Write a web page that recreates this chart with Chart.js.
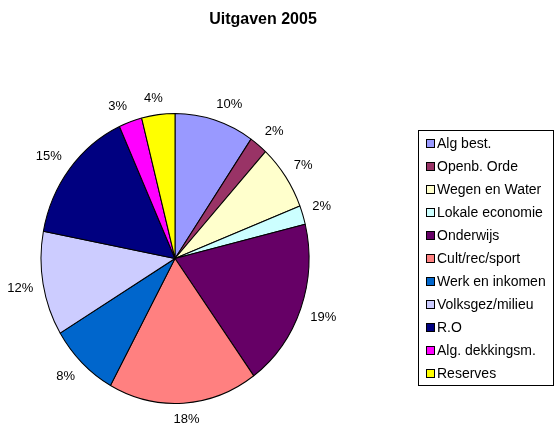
<!DOCTYPE html>
<html>
<head>
<meta charset="utf-8">
<script src="https://cdn.jsdelivr.net/npm/chart.js@4.4.0/dist/chart.umd.min.js"></script>
<style>
    html, body { margin: 0; padding: 0; background: #fff; }
    canvas { display: block; }
</style>
</head>
<body>
<canvas id="uitgavenChart" width="556" height="424"></canvas>
<script>
// Uitgaven 2005 - share per programma (percent)
const categories = ['Alg best.', 'Openb. Orde', 'Wegen en Water', 'Lokale economie', 'Onderwijs',
    'Cult/rec/sport', 'Werk en inkomen', 'Volksgez/milieu', 'R.O', 'Alg. dekkingsm.', 'Reserves'];
const values = [9.6, 2.2, 7.3, 2.1, 18.8, 18.0, 8.4, 11.6, 15.2, 2.8, 4.0];
const colors = ['#9999FF', '#993366', '#FFFFCC', '#CCFFFF', '#660066', '#FF8080',
    '#0066CC', '#CCCCFF', '#000080', '#FF00FF', '#FFFF00'];
const chartTitle = 'Uitgaven 2005';

const FONT = "'Liberation Sans', Arial, sans-serif";
const STRETCH = 145 / 134;   // the original pie is a bit taller than wide

const whiteBg = {
    id: 'whiteBg',
    beforeDraw(chart) {
        const ctx = chart.ctx;
        ctx.save();
        ctx.fillStyle = '#fff';
        ctx.fillRect(0, 0, chart.width, chart.height);
        ctx.restore();
    }
};

const ellipsePie = {
    id: 'ellipsePie',
    beforeDatasetsDraw(chart) {
        const arc = chart.getDatasetMeta(0).data[0];
        const ctx = chart.ctx;
        ctx.save();
        ctx.translate(arc.x, arc.y);
        ctx.scale(1, STRETCH);
        ctx.translate(-arc.x, -arc.y);
    },
    afterDatasetsDraw(chart) {
        const ctx = chart.ctx;
        ctx.restore();

        // percentage labels outside the slices
        const meta = chart.getDatasetMeta(0);
        const total = values.reduce((a, b) => a + b, 0);
        ctx.save();
        ctx.font = '13px ' + FONT;
        ctx.fillStyle = '#000';
        ctx.textAlign = 'center';
        ctx.textBaseline = 'middle';
        meta.data.forEach((arc, i) => {
            const mid = (arc.startAngle + arc.endAngle) / 2;
            const dx = Math.cos(mid), dy = Math.sin(mid);
            const rx = arc.outerRadius, ry = arc.outerRadius * STRETCH;
            const txt = Math.round(values[i] / total * 100) + '%';
            const w = ctx.measureText(txt).width, h = 12;
            const clamp = v => Math.max(-1, Math.min(1, v));
            const gap = 10;
            const x = arc.x + rx * dx + dx * gap + w / 2 * clamp(3 * dx);
            const y = arc.y + ry * dy + dy * gap + h / 2 * clamp(3 * dy);
            ctx.fillText(txt, x, y);
        });
        ctx.restore();
    }
};

const titleAndLegend = {
    id: 'titleAndLegend',
    afterDraw(chart) {
        const ctx = chart.ctx;
        ctx.save();
        ctx.fillStyle = '#000';
        ctx.textAlign = 'center';
        ctx.textBaseline = 'middle';
        ctx.font = 'bold 16px ' + FONT;
        ctx.fillText(chartTitle, 263, 20);

        ctx.strokeStyle = '#000';
        ctx.lineWidth = 1;
        ctx.strokeRect(418.5, 130.5, 135, 255);
        ctx.font = '14px ' + FONT;
        ctx.textAlign = 'left';
        categories.forEach((name, i) => {
            const y = 144 + i * 23;
            ctx.fillStyle = colors[i];
            ctx.fillRect(426.5, y - 4.5, 8, 8);
            ctx.strokeRect(426.5, y - 4.5, 8, 8);
            ctx.fillStyle = '#000';
            ctx.fillText(name, 437, y + 0.5);
        });
        ctx.restore();
    }
};

const ctx = document.querySelector('#uitgavenChart').getContext('2d');

new Chart(ctx, {
    type: 'pie',
    data: {
        labels: categories,
        datasets: [{
            data: values,
            backgroundColor: colors,
            borderColor: '#000',
            borderWidth: 1
        }]
    },
    options: {
        responsive: false,
        animation: false,
        events: [],
        radius: 134,
        layout: {
            padding: { left: 0, right: 206, top: 93, bottom: 0 }
        },
        plugins: {
            legend: { display: false },
            tooltip: { enabled: false },
            title: { display: false }
        }
    },
    plugins: [whiteBg, ellipsePie, titleAndLegend]
});
</script>
</body>
</html>
